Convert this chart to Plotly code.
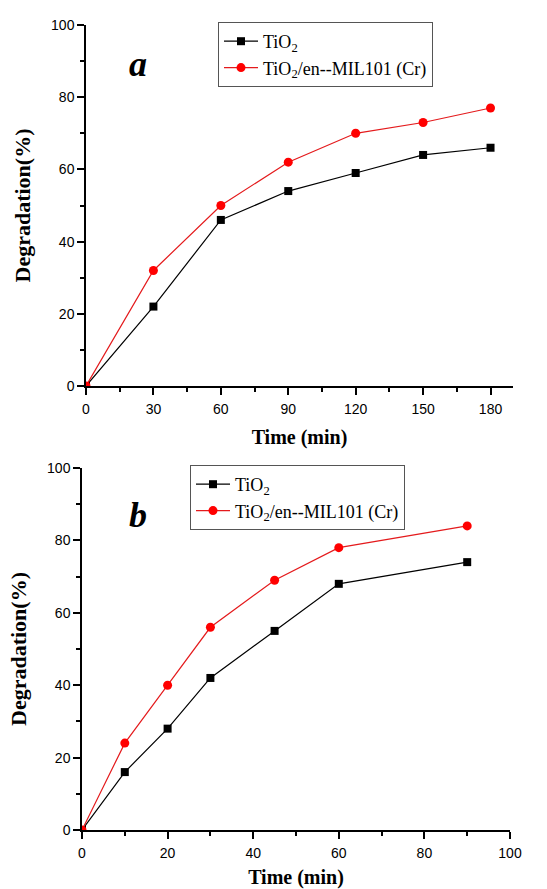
import plotly.graph_objects as go

# Panel a data
time_a = [0, 30, 60, 90, 120, 150, 180]
tio2_a = [0, 22, 46, 54, 59, 64, 66]
mil_a = [0, 32, 50, 62, 70, 73, 77]

# Panel b data
time_b = [0, 10, 20, 30, 45, 60, 90]
tio2_b = [0, 16, 28, 42, 55, 68, 74]
mil_b = [0, 24, 40, 56, 69, 78, 84]

name_black = "TiO<sub>2</sub>"
name_red = "TiO<sub>2</sub>/en--MIL101 (Cr)"

W, H = 547, 889
def px(x): return x / W
def py(y): return 1 - y / H

fig = go.Figure()
black_style = dict(mode="lines+markers", line=dict(color="black", width=1.2),
                   marker=dict(symbol="square", size=8, color="black"))
red_style = dict(mode="lines+markers", line=dict(color="#e41a1c", width=1.2),
                 marker=dict(symbol="circle", size=9, color="#ff0000"))

fig.add_trace(go.Scatter(x=time_a, y=tio2_a, name=name_black, xaxis="x", yaxis="y", legend="legend", **black_style))
fig.add_trace(go.Scatter(x=time_a, y=mil_a, name=name_red, xaxis="x", yaxis="y", legend="legend", **red_style))
fig.add_trace(go.Scatter(x=time_b, y=tio2_b, name=name_black, xaxis="x2", yaxis="y2", legend="legend2", **black_style))
fig.add_trace(go.Scatter(x=time_b, y=mil_b, name=name_red, xaxis="x2", yaxis="y2", legend="legend2", **red_style))

tickfont = dict(family="Liberation Sans, Arial", size=14, color="black")
serif = "Liberation Serif, Times New Roman"

def xax(domain, rng, dtick, anchor):
    return dict(domain=domain, range=rng, anchor=anchor, showgrid=False, zeroline=False,
                automargin=False,
                showline=True, linecolor="black", linewidth=1.5,
                ticks="outside", ticklen=7, tickwidth=1.5, tickcolor="black", dtick=dtick, tick0=0,
                minor=dict(ticks="outside", ticklen=4, tickwidth=1.5, tickcolor="black", dtick=dtick / 2, showgrid=False),
                tickfont=tickfont, ticklabelstandoff=2,
                title=dict(text="<b>Time (min)</b>", font=dict(family=serif, size=20, color="black"), standoff=14))

def yax(domain, anchor):
    return dict(domain=domain, range=[0, 100], anchor=anchor, showgrid=False, zeroline=False,
                automargin=False,
                showline=True, linecolor="black", linewidth=1.5,
                ticks="outside", ticklen=7, tickwidth=1.5, tickcolor="black", dtick=20, tick0=0,
                minor=dict(ticks="outside", ticklen=4, tickwidth=1.5, tickcolor="black", dtick=10, showgrid=False),
                tickfont=tickfont,
                title=dict(text="<b>Degradation(%)</b>", font=dict(family=serif, size=22, color="black"), standoff=14))

legfont = dict(family=serif, size=18, color="black")

fig.update_layout(
    width=W, height=H,
    margin=dict(l=0, r=0, t=0, b=0, autoexpand=False),
    paper_bgcolor="white", plot_bgcolor="white",
    xaxis=xax([px(86), px(513)], [0, 190], 30, "y"),
    yaxis=yax([py(386), py(25)], "x"),
    xaxis2=xax([px(82), px(510)], [0, 100], 20, "y2"),
    yaxis2=yax([py(830), py(468)], "x2"),
    legend=dict(x=px(218), y=py(22), xanchor="left", yanchor="top", bordercolor="#555", borderwidth=1,
                bgcolor="white", font=legfont, tracegroupgap=0, itemwidth=34),
    legend2=dict(x=px(190), y=py(465), xanchor="left", yanchor="top", bordercolor="#555", borderwidth=1,
                 bgcolor="white", font=legfont, tracegroupgap=0, itemwidth=34),
    showlegend=True,
    annotations=[
        dict(text="<b><i>a</i></b>", x=px(138), y=py(64), xref="paper", yref="paper", showarrow=False,
             xanchor="center", yanchor="middle",
             font=dict(family=serif, size=36, color="black")),
        dict(text="<b><i>b</i></b>", x=px(138), y=py(515), xref="paper", yref="paper", showarrow=False,
             xanchor="center", yanchor="middle",
             font=dict(family=serif, size=36, color="black")),
    ],
)

fig.write_html("out.html")
